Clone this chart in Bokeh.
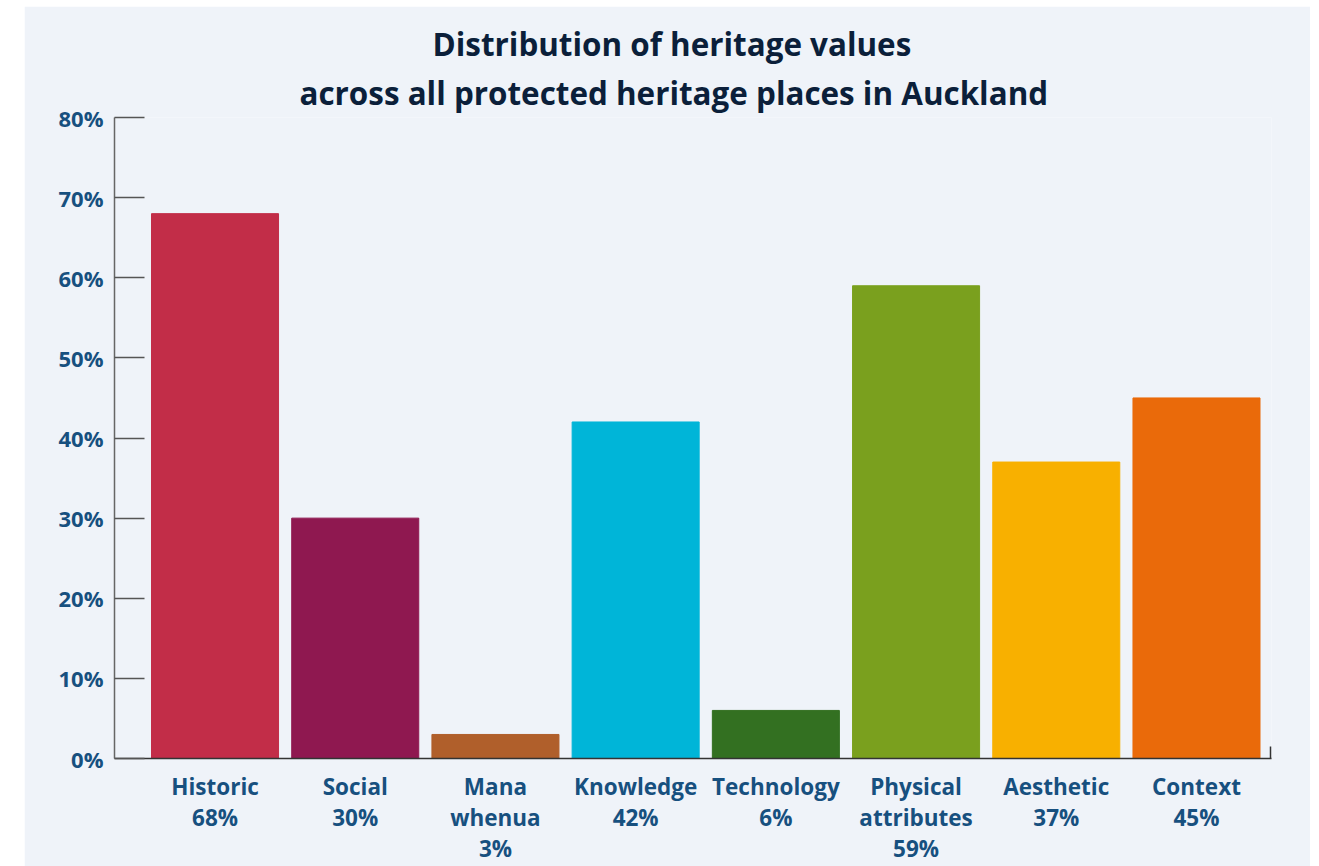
from bokeh.plotting import figure
from bokeh.models import Range1d, FixedTicker, Title, Spacer, ColumnDataSource, LinearAxis
from bokeh.layouts import row, column
from bokeh.embed import file_html
from bokeh.resources import INLINE

categories = ["Historic", "Social", "Mana\nwhenua", "Knowledge", "Technology",
              "Physical\nattributes", "Aesthetic", "Context"]
values = [68, 30, 3, 42, 6, 59, 37, 45]
colors = ["#C22D48", "#8F1850", "#B05F2B", "#00B5D8", "#337021",
          "#7AA01E", "#F8B000", "#EA6A0A"]
y_ticks = [0, 10, 20, 30, 40, 50, 60, 70, 80]

BG = "#EFF3F9"
LABEL = "#17507F"
FONT = "Open Sans"

xs = list(range(len(categories)))
src = ColumnDataSource(dict(x=xs, top=values, color=colors))

p = figure(width=1286, height=860, output_backend="svg", toolbar_location=None,
           x_range=Range1d(-0.717, len(categories) - 1 + 0.535),
           y_range=Range1d(0, 80),
           min_border_left=90, min_border_right=39, min_border_top=111,
           min_border_bottom=108)
p.background_fill_color = BG
p.border_fill_color = BG
p.outline_line_color = None
p.grid.visible = False

p.vbar(x="x", top="top", bottom=0, width=0.906, color="color", source=src)

# titles (added bottom-up)
t2 = Title(text="across all protected heritage places in Auckland", align="left",
           text_font=FONT, text_font_size="31.4px", text_font_style="bold",
           text_color="#0B1F3A", offset=185, standoff=8)
t1 = Title(text="Distribution of heritage values", align="left",
           text_font=FONT, text_font_size="31.4px", text_font_style="bold",
           text_color="#0B1F3A", offset=318, standoff=0)
p.add_layout(t2, "above")
p.add_layout(t1, "above")

# y axis
ya = p.yaxis[0]
ya.ticker = FixedTicker(ticks=y_ticks)
ya.major_label_overrides = {t: f"{t}%" for t in y_ticks}
ya.major_tick_in = 30
ya.major_tick_out = 0
ya.minor_tick_line_color = None
ya.major_tick_line_color = "#555555"
ya.major_tick_line_width = 1.5
ya.axis_line_color = "#666666"
ya.axis_line_width = 1.5
ya.major_label_text_font = FONT
ya.major_label_text_font_style = "bold"
ya.major_label_text_font_size = "22px"
ya.major_label_text_color = LABEL
ya.major_label_standoff = 11

# category label lines: one stacked axis per text line
label_lines = [c.split("\n") + [f"{v}%"] for c, v in zip(categories, values)]
n_lines = max(len(l) for l in label_lines)


def style_labels(ax, k):
    ax.major_label_overrides = {i: (l[k] if k < len(l) else "") for i, l in enumerate(label_lines)}
    ax.major_label_text_font = FONT
    ax.major_label_text_font_style = "bold"
    ax.major_label_text_font_size = "22.5px"
    ax.major_label_text_color = LABEL
    ax.major_tick_line_color = None
    ax.major_tick_in = 0
    ax.major_tick_out = 0


xa = p.xaxis[0]
x_end = len(categories) - 1 + 0.535
xa.ticker = FixedTicker(ticks=xs, minor_ticks=[x_end - 0.01])
style_labels(xa, 0)
xa.major_label_standoff = 12
xa.minor_tick_in = 12
xa.minor_tick_out = 0
xa.minor_tick_line_color = "#333333"
xa.minor_tick_line_width = 1.5
xa.axis_line_color = "#333333"
xa.axis_line_width = 1.5

for k in range(1, n_lines):
    ax = LinearAxis(ticker=FixedTicker(ticks=xs))
    style_labels(ax, k)
    ax.major_label_standoff = -3
    ax.axis_line_color = None
    ax.minor_tick_line_color = None
    p.add_layout(ax, "below")

layout = column(Spacer(height=6, width=1310),
                row(Spacer(width=24, height=860), p))

open("out.html", "w").write(file_html(layout, INLINE))
